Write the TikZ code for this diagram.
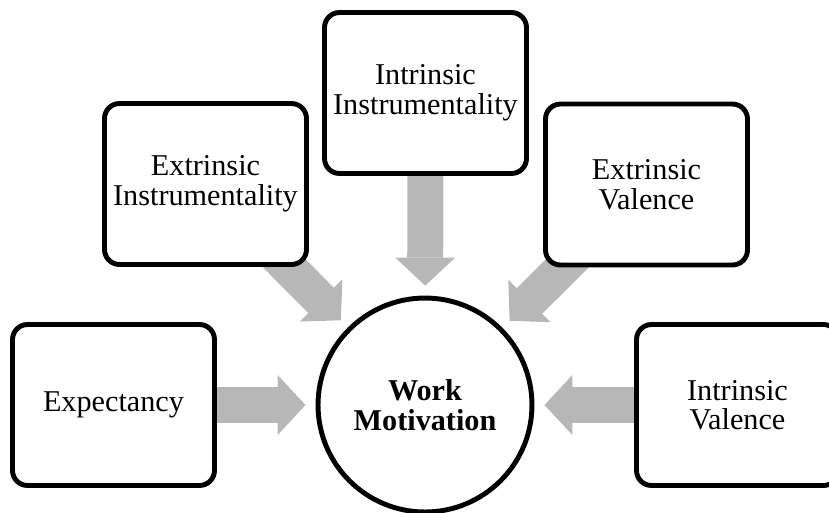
\documentclass[tikz,border=0pt]{standalone}
\usepackage{fontspec}
\setmainfont{Liberation Serif}
\usetikzlibrary{arrows.meta,backgrounds}
\definecolor{arrowgray}{RGB}{183,183,183}
\tikzset{>=latex}
\tikzset{
  factor/.style={draw, line width=2.8pt, rounded corners=0.3cm, fill=white,
    minimum width=4.04cm, minimum height=3.22cm, align=center,
    font=\fontsize{17.2}{16.8}\selectfont},
  core/.style={draw, circle, line width=2.8pt, fill=white, minimum size=4.28cm,
    inner sep=0pt, align=center, font=\fontsize{17.2}{16.8}\selectfont\bfseries},
  fat/.style={draw=arrowgray, line width=0.72cm, shorten >=0.2cm,
    -{Triangle[length=0.56cm,width=1.2cm,line width=0pt]}}
}

\begin{document}
\begin{tikzpicture}[x=0.02cm, y=-0.02cm]
\useasboundingbox (0,0) rectangle (829,512);
\node[core] (wm) at (425,405) {Work\\Motivation};
\node[factor] (ex) at (113.5,405) {Expectancy};
\node[factor] (ei) at (205.5,184) {Extrinsic\\Instrumentality};
\node[factor] (ii) at (425.5,93) {Intrinsic\\Instrumentality};
\node[factor] (ev) at (646.5,184.5) {Extrinsic\\Valence};
\node[factor] (iv) at (737.5,405) {Intrinsic\\Valence};
% grey block arrows sit behind the boxes
\begin{pgfonlayer}{background}
\foreach \f in {ex,ei,ii,ev,iv}
  \draw[fat] (\f.center) -- (wm);
\end{pgfonlayer}
\end{tikzpicture}
\end{document}
